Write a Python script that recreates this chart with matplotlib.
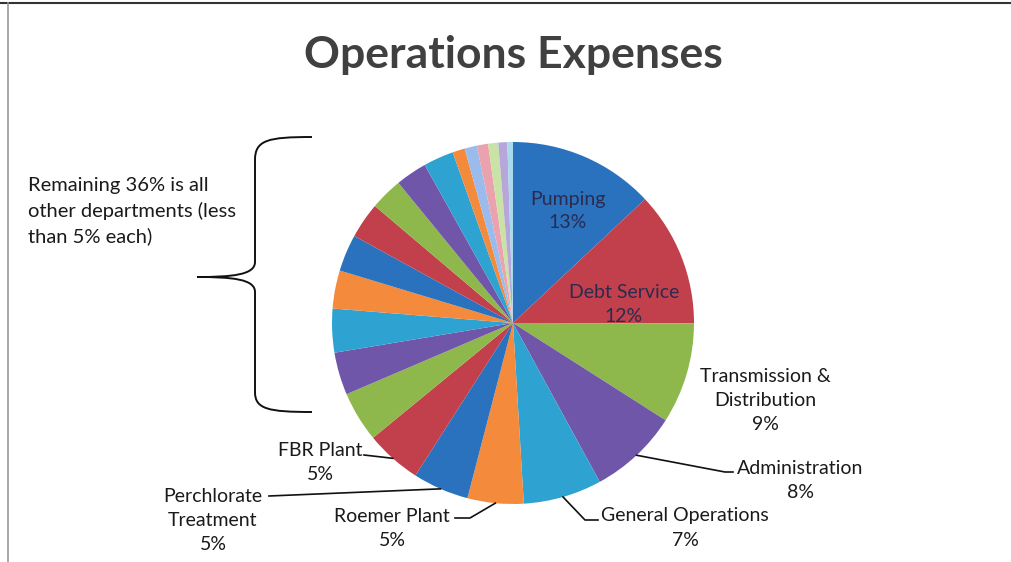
import numpy as np
import matplotlib.pyplot as plt
from matplotlib.path import Path
from matplotlib.patches import PathPatch

plt.rcParams['font.family'] = ['Lato', 'DejaVu Sans']

# slice data, clockwise from 12 o'clock
labels = ["Pumping", "Debt Service", "Transmission & Distribution", "Administration",
          "General Operations", "Roemer Plant", "Perchlorate Treatment", "FBR Plant"]
shares = [13, 12, 9, 8, 7, 5, 5, 5]
# the other departments (unlabelled, less than 5% each)
other_shares = [4.5, 3.8, 3.9, 3.4, 3.3, 3.2, 2.9, 2.8, 2.7, 1.1, 1.1, 1.0, 0.9, 0.8, 0.5]

base = ["#2a72bd", "#c2404b", "#8fb84c", "#7056a8", "#2ea3d2", "#f38a3c"]
light = ["#9bbbec", "#eaa2ae", "#c9e2a6", "#b7a6da", "#a9d9ec"]
colors = [base[i % 6] for i in range(8 + 10)] + light

values = shares + other_shares

fig = plt.figure(figsize=(10.11, 5.62), dpi=100)
ax = fig.add_axes([0, 0, 1, 1])
H = 562
cx, cy, r = 513, H - 323, 181

ax.pie(values, colors=colors[:len(values)], startangle=90, counterclock=False,
       center=(cx, cy), radius=r, frame=True)
ax.set_xlim(0, 1011)
ax.set_ylim(0, H)
ax.set_aspect('equal')
ax.axis('off')

# mid angles of the labelled slices
bounds = 90 - np.cumsum([0] + values) / sum(values) * 360
mids = (bounds[:-1] + bounds[1:]) / 2


def edge(i, k=1.0):
    a = np.radians(mids[i])
    return cx + r * k * np.cos(a), cy + r * k * np.sin(a)


fs = 14
ls = 1.5
tc = "#1a1a1a"
ax.text(cx, H - 55, "Operations Expenses", ha="center", va="center",
        fontsize=32, fontweight="bold", color="#404040")

# inside labels
ax.text(568, H - 211, "Pumping\n13%", ha="center", va="center", fontsize=fs,
        color="#2b2b50", linespacing=ls)
ax.text(624, H - 304, "Debt Service\n12%", ha="center", va="center", fontsize=fs,
        color="#2b2b50", linespacing=ls)

# outside labels
ax.text(765, H - 400, "Transmission &\nDistribution\n9%", ha="center", va="center",
        fontsize=fs, color=tc, linespacing=ls)
ax.text(800, H - 480, "Administration\n8%", ha="center", va="center", fontsize=fs,
        color=tc, linespacing=ls)
ax.text(685, H - 528, "General Operations\n7%", ha="center", va="center", fontsize=fs,
        color=tc, linespacing=ls)
ax.text(392, H - 528, "Roemer Plant\n5%", ha="center", va="center", fontsize=fs,
        color=tc, linespacing=ls)
ax.text(213, H - 521, "Perchlorate\nTreatment\n5%", ha="center", va="center", fontsize=fs,
        color=tc, linespacing=ls)
ax.text(320, H - 463, "FBR Plant\n5%", ha="center", va="center", fontsize=fs,
        color=tc, linespacing=ls)

# leader lines
lk = dict(color="#111111", lw=1.2)
x0, y0 = edge(3)
ax.plot([x0, 725, 733], [y0, H - 472, H - 472], **lk)
x0, y0 = edge(4)
ax.plot([x0, 585, 598], [y0, H - 520, H - 520], **lk)
x0, y0 = edge(5)
ax.plot([x0, 470, 455], [y0, H - 518, H - 518], **lk)
x0, y0 = edge(6)
ax.plot([x0, 269], [y0, H - 496], **lk)
x0, y0 = edge(7)
ax.plot([x0, 364], [y0, H - 455], **lk)

# note and brace
ax.text(28, H - 211, "Remaining 36% is all\nother departments (less\nthan 5% each)",
        ha="left", va="center", fontsize=14.5, color=tc, linespacing=1.5)
verts = [(312, H - 137), (268, H - 137), (255, H - 140), (255, H - 160),
         (255, H - 262), (255, H - 275), (232, H - 277), (197, H - 277),
         (232, H - 277), (255, H - 279), (255, H - 292),
         (255, H - 392), (255, H - 409), (268, H - 412), (312, H - 412)]
codes = [Path.MOVETO, Path.CURVE4, Path.CURVE4, Path.CURVE4,
         Path.LINETO, Path.CURVE4, Path.CURVE4, Path.CURVE4,
         Path.CURVE4, Path.CURVE4, Path.CURVE4,
         Path.LINETO, Path.CURVE4, Path.CURVE4, Path.CURVE4]
ax.add_patch(PathPatch(Path(verts, codes), fill=False, lw=1.4, color="#111111"))

# frame lines of the scanned page
ax.plot([0, 1011], [H - 3, H - 3], color="#333333", lw=1.5)
ax.plot([8, 8], [H - 3, 0], color="#999999", lw=1.2)

fig.savefig("out.png", dpi=100)
